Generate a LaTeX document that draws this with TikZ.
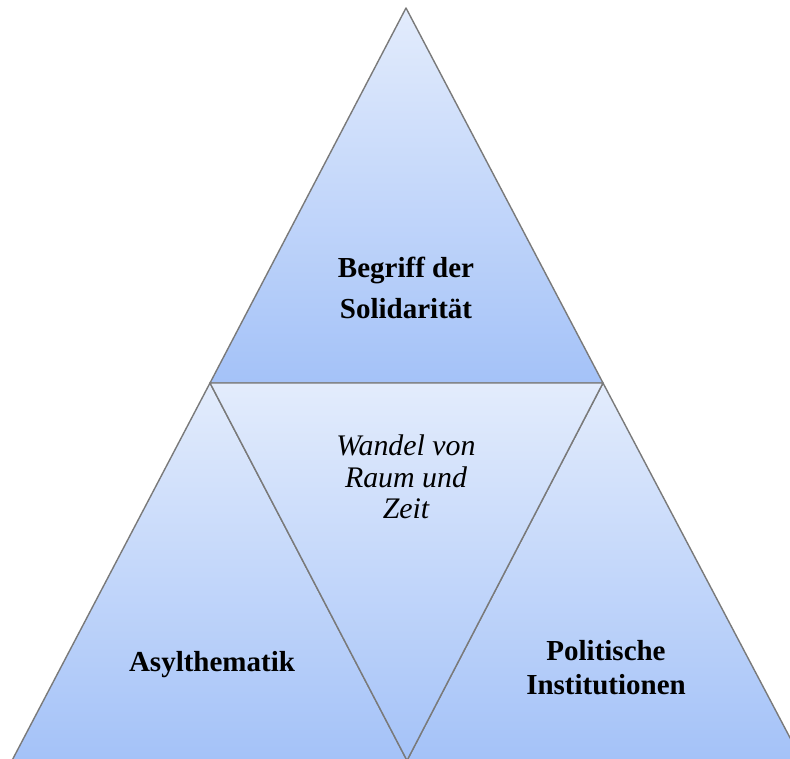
\documentclass[tikz,border=0pt]{standalone}
\usepackage{fontspec}
\setmainfont{Liberation Serif}
\definecolor{paleblue}{HTML}{E3ECFC}
\definecolor{deepblue}{HTML}{A4C2F8}
\definecolor{edgegray}{HTML}{7A7A7A}
\begin{document}
\begin{tikzpicture}[thick,
    tri/.style = {draw=edgegray,
        line join=round,
        top color=paleblue,
        bottom color=deepblue},
    topic/.style = {align=center,
        font=\fontsize{16.5}{23.3}\selectfont\bfseries},
    change/.style = {align=center,
        font=\fontsize{17}{17.8}\selectfont\itshape}]

\clip (0,0) rectangle (15.8,15.16);

% Corners
\coordinate (apex) at (8.12,15.0);
\coordinate (midL) at (4.2,7.5);
\coordinate (midR) at (12.06,7.5);
\coordinate (botL) at (0.24,-0.05);
\coordinate (botM) at (8.14,-0.05);
\coordinate (botR) at (16.04,-0.05);

% Triangles
\path[tri] (apex) -- (midR) -- (midL) -- cycle;
\path[tri] (midL) -- (botM) -- (botL) -- cycle;
\path[tri] (midR) -- (botR) -- (botM) -- cycle;
\path[tri] (midL) -- (midR) -- (botM) -- cycle;

% Labels
\node[topic] (solidaritaet) at (8.12,9.4) {Begriff der\\Solidarität};
\node[change] (wandel) at (8.12,5.62) {Wandel von\\Raum und\\Zeit};
\node[topic] (asyl) at (4.24,1.86) {Asylthematik};
\node[topic,font=\fontsize{16.5}{19.4}\selectfont\bfseries] (politik) at (12.12,1.8) {Politische\\Institutionen};
\end{tikzpicture}
\end{document}
